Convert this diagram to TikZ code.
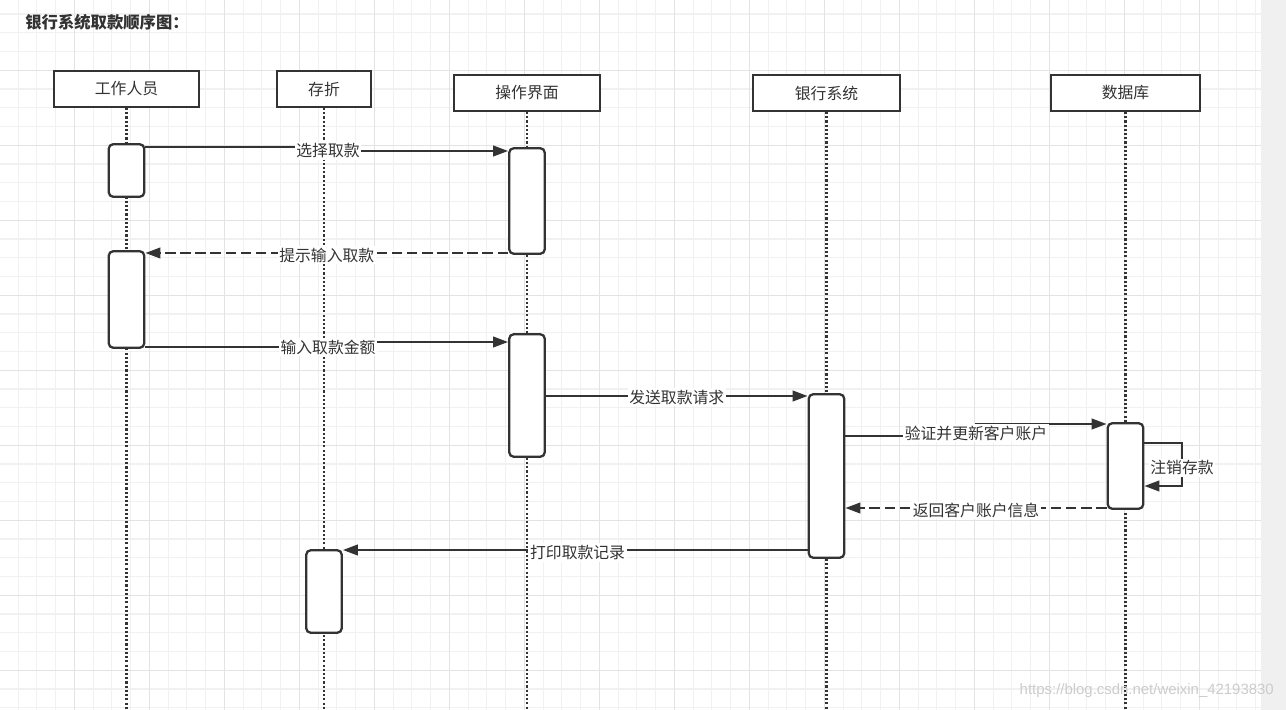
\documentclass[tikz,border=0pt]{standalone}
\usepackage{fontspec}
\setmainfont{Noto Sans CJK SC}
\newfontfamily\marcafont{Liberation Sans}
\usepackage{tikz}
\usetikzlibrary{positioning, arrows.meta}
\definecolor{tinta}{HTML}{333333}
\definecolor{rejilla_menor}{HTML}{F1F1F1}
\definecolor{rejilla_mayor}{HTML}{E3E3E3}
\definecolor{banda}{HTML}{F0F0F0}
\tikzset{
    box_actor/.style={rectangle, draw=tinta, fill=white, line width=1.4pt, minimum height=0.71cm, inner sep=0pt, text=tinta, font=\fontsize{9}{11}\selectfont},
    box_activacion/.style={rectangle, rounded corners=2.5pt, draw=tinta, fill=white, line width=1.3pt, minimum width=0.71cm, inner sep=0pt},
    linea_vida/.style={draw=tinta, line width=1.4pt, dash pattern=on 1.2pt off 1.2pt},
    etiqueta/.style={fill=white, inner sep=1pt, text=tinta, font=\fontsize{9}{11}\selectfont},
    flecha/.style={draw=tinta, line width=1.2pt, -{Triangle[length=8.5pt, width=6pt]}},
    flecha_retorno/.style={flecha, dash pattern=on 6pt off 2.6pt}
}

\begin{document}
\begin{tikzpicture}[x=0.02cm, y=-0.02cm]

    \useasboundingbox (0,0) rectangle (1286,710);

    % Fondo con rejilla
    \fill[white] (0,0) rectangle (1261,710);
    \fill[banda] (1261,0) rectangle (1286,710);
    \foreach \i in {0,...,67} {
        \draw[rejilla_menor, line width=0.6pt] ({\i*18.75-0.7},0) -- ({\i*18.75-0.7},710);
    }
    \foreach \j in {1,...,38} {
        \draw[rejilla_menor, line width=0.6pt] (0,{\j*18.75-4.75}) -- (1261,{\j*18.75-4.75});
    }
    \foreach \i in {1,...,16} {
        \draw[rejilla_mayor, line width=0.6pt] ({\i*75-0.7},0) -- ({\i*75-0.7},710);
    }
    \foreach \j in {1,...,9} {
        \draw[rejilla_mayor, line width=0.6pt] (0,{\j*75-4.75}) -- (1261,{\j*75-4.75});
    }

    % Titulo
    \node[anchor=west, inner sep=0pt, text=tinta, font=\fontsize{9.3}{11}\selectfont\bfseries] (titulo) at (25,22) {银行系统取款顺序图：};

    % 1. Participantes
    \node[box_actor, minimum width=2.9cm] (trabajador) at (126.5,89) {工作人员};
    \node[box_actor, minimum width=1.88cm] (cartilla) at (324,89) {存折};
    \node[box_actor, minimum width=2.92cm] (interfaz) at (527,93) {操作界面};
    \node[box_actor, minimum width=2.94cm] (banco) at (826.5,93) {银行系统};
    \node[box_actor, minimum width=2.98cm] (basedatos) at (1125.5,93) {数据库};

    % 2. Lineas de vida
    \coordinate (fondo) at (0,710);
    \foreach \n in {trabajador, cartilla, interfaz, banco, basedatos} {
        \draw[linea_vida] (\n.south) -- (\n |- fondo);
    }

    % 3. Activaciones
    \node[box_activacion, minimum height=1.05cm] (act_trab1) at (trabajador |- 0,170.5) {};
    \node[box_activacion, minimum height=1.93cm] (act_trab2) at (trabajador |- 0,299.5) {};
    \node[box_activacion, minimum height=2.11cm] (act_int1) at (interfaz |- 0,201) {};
    \node[box_activacion, minimum height=2.45cm] (act_int2) at (interfaz |- 0,395.5) {};
    \node[box_activacion, minimum height=3.27cm] (act_banco) at (banco |- 0,476) {};
    \node[box_activacion, minimum height=1.71cm] (act_bd) at (basedatos |- 0,466) {};
    \node[box_activacion, minimum height=1.65cm] (act_cart) at (cartilla |- 0,591.5) {};

    % --- MENSAJES ---
    \draw[flecha] (act_trab1.east |- 0,147) -| (328,151) node[etiqueta] {选择取款} |- (act_int1.west |- 0,151);
    \draw[flecha_retorno] (act_int1.west |- 0,253) -- (act_trab2.east |- 0,253)
        node[etiqueta, midway, yshift=-0.04cm] {提示输入取款};
    \draw[flecha] (act_trab2.east |- 0,347) -| (328,347) node[etiqueta] {输入取款金额} |- (act_int2.west |- 0,342);
    \draw[flecha] (act_int2.east |- 0,396) -- (act_banco.west |- 0,396)
        node[etiqueta, midway, yshift=-0.02cm] {发送取款请求};
    \draw[flecha] (act_banco.east |- 0,436) -| (976,433) node[etiqueta] {验证并更新客户账户} |- (act_bd.west |- 0,424);

    % Mensaje a si mismo
    \draw[flecha] (act_bd.east |- 0,443) -- (1182,443)
        -- node[etiqueta, pos=0.58] {注销存款} (1182,486) -- (act_bd.east |- 0,486);

    \draw[flecha_retorno] (act_bd.west |- 0,508) -- (act_banco.east |- 0,508)
        node[etiqueta, midway, yshift=-0.04cm] {返回客户账户信息};
    \draw[flecha] (act_banco.west |- 0,550) -- (act_cart.east |- 0,550)
        node[etiqueta, pos=0.495, yshift=-0.05cm] {打印取款记录};

    % Marca de agua
    \node[anchor=east, text=gray!40, font=\marcafont\fontsize{8.5}{10}\selectfont] (marca) at (1280,691) {https://blog.csdn.net/weixin\_42193830};

\end{tikzpicture}
\end{document}
